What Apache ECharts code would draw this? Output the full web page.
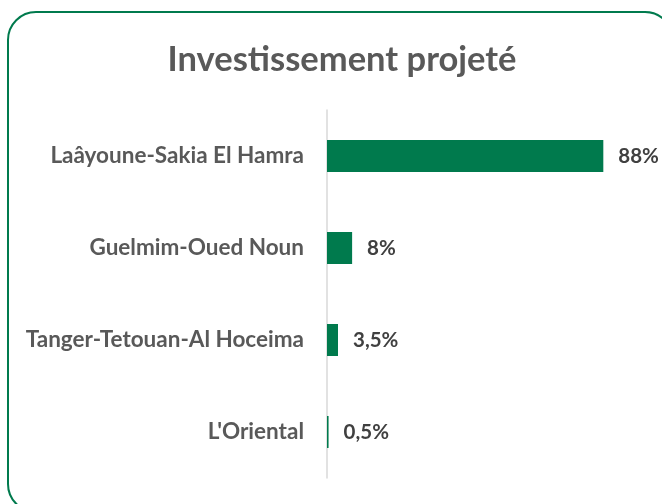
<!DOCTYPE html>
<html>
<head>
<meta charset="utf-8">
<script src="https://cdn.jsdelivr.net/npm/echarts@6.0.0/dist/echarts.min.js"></script>
<style>
  html, body { margin: 0; padding: 0; background: #fff; }
  #chart { width: 662px; height: 504px; }
</style>
</head>
<body>
<div id="chart"></div>
<script>
// données
const regions = ['Laâyoune-Sakia El Hamra', 'Guelmim-Oued Noun', 'Tanger-Tetouan-Al Hoceima', "L'Oriental"];
const parts = [88, 8, 3.5, 0.5];
const partLabels = ['88%', '8%', '3,5%', '0,5%'];

const chart = echarts.init(document.getElementById('chart'));

const option = {
  animation: false,
  title: {
    text: 'Investissement projeté',
    left: 337,
    textAlign: 'center',
    top: 37,
    textStyle: { fontFamily: 'Lato', fontSize: 34.5, fontWeight: 'bold', color: '#595959' }
  },
  graphic: [{
    type: 'rect',
    shape: { x: 8, y: 12, width: 665, height: 500, r: 28 },
    style: { fill: 'none', stroke: '#007A4D', lineWidth: 2 },
    silent: true
  }],
  grid: { left: 327, top: 110, width: 314, height: 368 },
  xAxis: {
    type: 'value',
    min: 0,
    max: 100,
    show: false
  },
  yAxis: {
    type: 'category',
    inverse: true,
    data: regions,
    axisLine: { show: true, lineStyle: { color: '#D9D9D9', width: 1.5 } },
    axisTick: { show: false },
    axisLabel: {
      margin: 23,
      fontFamily: 'Lato',
      fontSize: 22.5,
      fontWeight: 'bold',
      color: '#595959'
    }
  },
  series: [{
    type: 'bar',
    data: parts,
    barWidth: 32,
    itemStyle: { color: '#007A4D' },
    label: {
      show: true,
      position: 'right',
      distance: 15,
      fontFamily: 'Lato',
      fontSize: 20.5,
      fontWeight: 'bold',
      color: '#404040',
      formatter: p => partLabels[p.dataIndex]
    }
  }]
};

chart.setOption(option);
</script>
</body>
</html>
